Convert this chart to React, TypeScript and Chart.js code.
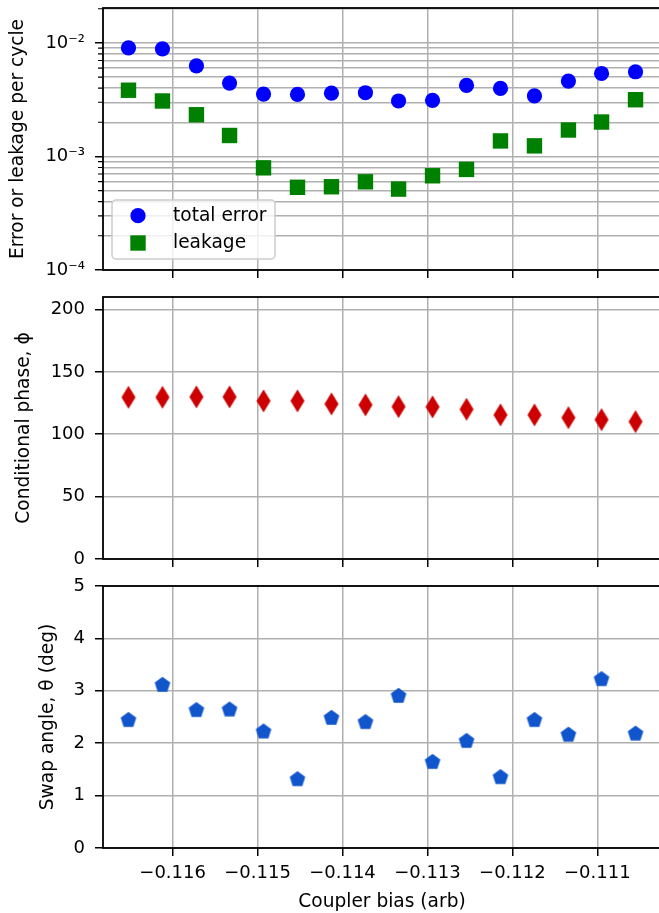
import React, { useEffect, useRef } from 'react';
import { Chart, registerables } from 'chart.js';

Chart.register(...registerables);

// ---------------- data ----------------
const couplerBias = [
  -0.11652, -0.11612, -0.11572, -0.11533, -0.11493, -0.11453, -0.11413, -0.11373,
  -0.11334, -0.11294, -0.11254, -0.11214, -0.11174, -0.11134, -0.11095, -0.11055,
];
const totalError = [
  0.00904, 0.00885, 0.00628, 0.00443, 0.00354, 0.00352, 0.00361, 0.00364,
  0.00308, 0.00312, 0.00422, 0.00397, 0.00341, 0.00461, 0.00538, 0.00557,
];
const leakage = [
  0.00383, 0.00308, 0.00233, 0.00153, 0.000794, 0.000535, 0.000541, 0.000598,
  0.000516, 0.000676, 0.000769, 0.00137, 0.00124, 0.00171, 0.00201, 0.00316,
];
const conditionalPhase = [
  129.6, 129.6, 129.9, 129.9, 126.7, 126.7, 124.3, 123.5,
  122.1, 121.9, 120.0, 115.5, 115.5, 113.3, 111.7, 110.1,
];
const swapAngle = [
  2.44, 3.11, 2.63, 2.64, 2.22, 1.31, 2.48, 2.40,
  2.90, 1.64, 2.04, 1.35, 2.44, 2.16, 3.22, 2.18,
];
const xTickValues = [-0.116, -0.115, -0.114, -0.113, -0.112, -0.111];
const errorTickValues = [
  0.0001, 0.0002, 0.0003, 0.0004, 0.0005, 0.0006, 0.0007, 0.0008, 0.0009,
  0.001, 0.002, 0.003, 0.004, 0.005, 0.006, 0.007, 0.008, 0.009,
  0.01, 0.02,
];
const phaseTickValues = [0, 50, 100, 150, 200];
const swapTickValues = [0, 1, 2, 3, 4, 5];

const seriesLabels = ['total error', 'leakage', 'conditional phase', 'swap angle'];
const axisTitles = {
  x: 'Coupler bias (arb)',
  error: 'Error or leakage per cycle',
  phase: 'Conditional phase, ϕ',
  swap: 'Swap angle, θ (deg)',
};

// ---------------- styling / layout ----------------
const FONT_FAMILY = 'DejaVu Sans';
const TICK_FONT_SIZE = 18;
const LABEL_FONT_SIZE = 18.6;
const TEXT_COLOR = '#000000';
const GRID_COLOR = '#b0b0b0';
const CANVAS_WIDTH = 661;
const Y_AXIS_WIDTH = 103;
const X_MIN = -0.11682;
const X_MAX = -0.11025;
const COLORS = {
  error: '#0000ff',
  leak: '#008000',
  phase: '#cc0000',
  swap: '#1155cc',
};

const PANEL_LAYOUT = [
  { top: 0, padTop: 8, plotHeight: 262, xAxisHeight: 10, titlePad: 7.5 },
  { top: 287, padTop: 10, plotHeight: 262, xAxisHeight: 10, titlePad: 13 },
  { top: 576, padTop: 10, plotHeight: 262, xAxisHeight: 65, titlePad: 37.5 },
];

const tickFont = { family: FONT_FAMILY, size: TICK_FONT_SIZE };
const labelFont = { family: FONT_FAMILY, size: LABEL_FONT_SIZE };

const SUP: Record<string, string> = {
  '-': '⁻', '0': '⁰', '1': '¹', '2': '²', '3': '³', '4': '⁴', '5': '⁵', '6': '⁶', '7': '⁷', '8': '⁸', '9': '⁹',
};

function isPow10(v: number) {
  const l = Math.log10(v);
  return Math.abs(l - Math.round(l)) < 1e-9;
}
function pow10Label(v: number) {
  const e = String(Math.round(Math.log10(v)));
  return '10' + e.split('').map((c) => SUP[c] || c).join('');
}
function fmtBias(v: number) {
  const s = Math.abs(v).toFixed(3);
  return v < 0 ? '\u2212' + s : s;
}

function makeThinDiamond(color: string) {
  const c = document.createElement('canvas');
  c.width = 16;
  c.height = 26;
  const g = c.getContext('2d')!;
  const cx = 8, cy = 13, hw = 7.0, hh = 11.6;
  g.fillStyle = color;
  g.beginPath();
  g.moveTo(cx, cy - hh);
  g.lineTo(cx + hw, cy);
  g.lineTo(cx, cy + hh);
  g.lineTo(cx - hw, cy);
  g.closePath();
  g.fill();
  return c;
}
function makePentagon(color: string) {
  const c = document.createElement('canvas');
  c.width = 20;
  c.height = 20;
  const g = c.getContext('2d')!;
  const cx = 10, cy = 10, r = 8.2;
  g.fillStyle = color;
  g.beginPath();
  for (let k = 0; k < 5; k++) {
    const a = -Math.PI / 2 + (k * 2 * Math.PI) / 5;
    const px = cx + r * Math.cos(a);
    const py = cy + r * Math.sin(a);
    if (k === 0) g.moveTo(px, py);
    else g.lineTo(px, py);
  }
  g.closePath();
  g.fill();
  return c;
}

const framePlugin = {
  id: 'frame',
  afterDatasetsDraw(chart: any) {
    const { ctx, chartArea: a } = chart;
    ctx.save();
    ctx.strokeStyle = '#000000';
    ctx.lineWidth = 1.8;
    ctx.strokeRect(a.left, a.top, a.right - a.left, a.bottom - a.top);
    ctx.restore();
  },
};

const minorTickPlugin = {
  id: 'minorTicks',
  afterDatasetsDraw(chart: any) {
    const { ctx, chartArea: a } = chart;
    const scale = chart.scales.y;
    ctx.save();
    ctx.strokeStyle = '#000000';
    ctx.lineWidth = 1.1;
    ctx.beginPath();
    for (const v of errorTickValues) {
      if (isPow10(v)) continue;
      const y = scale.getPixelForValue(v);
      if (y < a.top - 0.5 || y > a.bottom + 0.5) continue;
      ctx.moveTo(a.left - 5, y);
      ctx.lineTo(a.left, y);
    }
    ctx.stroke();
    ctx.restore();
  },
};

const legendPlugin = {
  id: 'insetLegend',
  afterDraw(chart: any) {
    const { ctx, chartArea: a } = chart;
    const x0 = a.left + 9;
    const y0 = a.bottom - 70;
    const w = 163;
    const h = 59;
    const r = 4;
    ctx.save();
    ctx.beginPath();
    ctx.moveTo(x0 + r, y0);
    ctx.lineTo(x0 + w - r, y0);
    ctx.arcTo(x0 + w, y0, x0 + w, y0 + r, r);
    ctx.lineTo(x0 + w, y0 + h - r);
    ctx.arcTo(x0 + w, y0 + h, x0 + w - r, y0 + h, r);
    ctx.lineTo(x0 + r, y0 + h);
    ctx.arcTo(x0, y0 + h, x0, y0 + h - r, r);
    ctx.lineTo(x0, y0 + r);
    ctx.arcTo(x0, y0, x0 + r, y0, r);
    ctx.closePath();
    ctx.fillStyle = 'rgba(255,255,255,0.8)';
    ctx.fill();
    ctx.strokeStyle = '#cccccc';
    ctx.lineWidth = 1.5;
    ctx.stroke();

    const ds = chart.data.datasets;
    ctx.fillStyle = ds[0].pointBackgroundColor;
    ctx.beginPath();
    ctx.arc(x0 + 26, y0 + 15.7, 7.6, 0, Math.PI * 2);
    ctx.fill();
    ctx.fillStyle = ds[1].pointBackgroundColor;
    ctx.fillRect(x0 + 26 - 7.7, y0 + 43 - 7.7, 15.4, 15.4);

    ctx.fillStyle = TEXT_COLOR;
    ctx.font = `${LABEL_FONT_SIZE}px "${FONT_FAMILY}"`;
    ctx.textBaseline = 'middle';
    ctx.textAlign = 'left';
    ctx.fillText(ds[0].label, x0 + 61, y0 + 15.7);
    ctx.fillText(ds[1].label, x0 + 61, y0 + 43);
    ctx.restore();
  },
};

function xAxis(showLabels: boolean, height: number) {
  return {
    type: 'linear',
    position: 'bottom',
    min: X_MIN,
    max: X_MAX,
    bounds: 'data',
    afterBuildTicks: (s: any) => {
      s.ticks = xTickValues.map((v) => ({ value: v }));
    },
    afterFit: (s: any) => {
      s.height = height;
      s.paddingLeft = 0;
      s.paddingRight = 0;
      s.paddingTop = 0;
      s.paddingBottom = 0;
    },
    grid: {
      color: GRID_COLOR,
      lineWidth: 1.5,
      drawTicks: true,
      tickLength: 8,
      tickColor: '#000000',
      tickWidth: 1.5,
    },
    border: { display: false },
    ticks: {
      autoSkip: false,
      maxRotation: 0,
      minRotation: 0,
      padding: 7,
      color: TEXT_COLOR,
      font: tickFont,
      callback: (v: number) => (showLabels ? fmtBias(v) : ''),
    },
    title: showLabels
      ? { display: true, text: axisTitles.x, color: TEXT_COLOR, font: labelFont, padding: { top: 0, bottom: 0 } }
      : { display: false },
  };
}

function yAxisBase(title: string, titlePad: number, tickValues: number[]) {
  return {
    position: 'left',
    bounds: 'data',
    afterBuildTicks: (s: any) => {
      s.ticks = tickValues.map((v) => ({ value: v }));
    },
    afterFit: (s: any) => {
      s.width = Y_AXIS_WIDTH;
      s.paddingLeft = 0;
      s.paddingRight = 0;
      s.paddingTop = 0;
      s.paddingBottom = 0;
    },
    grid: {
      color: GRID_COLOR,
      lineWidth: 1.5,
      drawTicks: true,
      tickLength: 8,
      tickColor: '#000000',
      tickWidth: 1.5,
    },
    border: { display: false },
    ticks: {
      autoSkip: false,
      padding: 10,
      color: TEXT_COLOR,
      font: tickFont,
    },
    title: {
      display: true,
      text: title,
      color: TEXT_COLOR,
      font: labelFont,
      padding: { top: titlePad, bottom: 0 },
    },
  };
}

function baseOptions(layoutIdx: number, scales: any) {
  const L = PANEL_LAYOUT[layoutIdx];
  return {
    responsive: false,
    maintainAspectRatio: false,
    animation: false,
    events: [],
    layout: { autoPadding: false, padding: { top: L.padTop, left: 0, right: 0, bottom: 0 } },
    plugins: { legend: { display: false }, tooltip: { enabled: false }, title: { display: false } },
    scales,
  };
}

function canvasHeight(i: number) {
  const L = PANEL_LAYOUT[i];
  return L.padTop + L.plotHeight + L.xAxisHeight;
}

export default function App() {
  const c1 = useRef<HTMLCanvasElement>(null);
  const c2 = useRef<HTMLCanvasElement>(null);
  const c3 = useRef<HTMLCanvasElement>(null);

  useEffect(() => {
    Chart.defaults.font.family = FONT_FAMILY;
    const diamond = makeThinDiamond(COLORS.phase);
    const pentagon = makePentagon(COLORS.swap);

    const yErr: any = yAxisBase(axisTitles.error, PANEL_LAYOUT[0].titlePad, errorTickValues);
    yErr.type = 'logarithmic';
    yErr.min = 0.0001;
    yErr.max = 0.0203;
    yErr.ticks.callback = (v: number) => (isPow10(v) ? pow10Label(v) : '');
    yErr.grid.tickColor = (c: any) => (c.tick && isPow10(c.tick.value) ? '#000000' : 'rgba(0,0,0,0)');

    const chart1 = new Chart(c1.current!, {
      type: 'scatter',
      data: {
        datasets: [
          {
            label: seriesLabels[0],
            data: couplerBias.map((x, i) => ({ x, y: totalError[i] })),
            pointStyle: 'circle',
            pointRadius: 7.6,
            pointBackgroundColor: COLORS.error,
            pointBorderWidth: 0,
            borderWidth: 0,
            showLine: false,
          },
          {
            label: seriesLabels[1],
            data: couplerBias.map((x, i) => ({ x, y: leakage[i] })),
            pointStyle: 'rect',
            pointRadius: 10.9,
            pointBackgroundColor: COLORS.leak,
            pointBorderWidth: 0,
            borderWidth: 0,
            showLine: false,
          },
        ],
      },
      options: baseOptions(0, { x: xAxis(false, PANEL_LAYOUT[0].xAxisHeight), y: yErr }) as any,
      plugins: [framePlugin, minorTickPlugin, legendPlugin],
    });

    const yPhase: any = yAxisBase(axisTitles.phase, PANEL_LAYOUT[1].titlePad, phaseTickValues);
    yPhase.type = 'linear';
    yPhase.min = 0;
    yPhase.max = 210;
    yPhase.ticks.callback = (v: number) => String(v);

    const chart2 = new Chart(c2.current!, {
      type: 'scatter',
      data: {
        datasets: [
          {
            label: seriesLabels[2],
            data: couplerBias.map((x, i) => ({ x, y: conditionalPhase[i] })),
            pointStyle: diamond as any,
            pointRadius: 11,
            pointBackgroundColor: COLORS.phase,
            pointBorderWidth: 0,
            borderWidth: 0,
            showLine: false,
          },
        ],
      },
      options: baseOptions(1, { x: xAxis(false, PANEL_LAYOUT[1].xAxisHeight), y: yPhase }) as any,
      plugins: [framePlugin],
    });

    const ySwap: any = yAxisBase(axisTitles.swap, PANEL_LAYOUT[2].titlePad, swapTickValues);
    ySwap.type = 'linear';
    ySwap.min = 0;
    ySwap.max = 5;
    ySwap.ticks.callback = (v: number) => String(v);

    const chart3 = new Chart(c3.current!, {
      type: 'scatter',
      data: {
        datasets: [
          {
            label: seriesLabels[3],
            data: couplerBias.map((x, i) => ({ x, y: swapAngle[i] })),
            pointStyle: pentagon as any,
            pointRadius: 9,
            pointBackgroundColor: COLORS.swap,
            pointBorderWidth: 0,
            borderWidth: 0,
            showLine: false,
          },
        ],
      },
      options: baseOptions(2, { x: xAxis(true, PANEL_LAYOUT[2].xAxisHeight), y: ySwap }) as any,
      plugins: [framePlugin],
    });

    return () => {
      chart1.destroy();
      chart2.destroy();
      chart3.destroy();
    };
  }, []);

  const canvasStyle = (i: number): React.CSSProperties => ({
    position: 'absolute',
    left: 0,
    top: PANEL_LAYOUT[i].top,
    width: CANVAS_WIDTH,
    height: canvasHeight(i),
    display: 'block',
  });

  return (
    <div
      style={{
        position: 'absolute',
        left: 0,
        top: 0,
        width: 659,
        height: 913,
        overflow: 'hidden',
        background: '#ffffff',
      }}
    >
      <canvas ref={c1} width={CANVAS_WIDTH} height={canvasHeight(0)} style={canvasStyle(0)} />
      <canvas ref={c2} width={CANVAS_WIDTH} height={canvasHeight(1)} style={canvasStyle(1)} />
      <canvas ref={c3} width={CANVAS_WIDTH} height={canvasHeight(2)} style={canvasStyle(2)} />
    </div>
  );
}
